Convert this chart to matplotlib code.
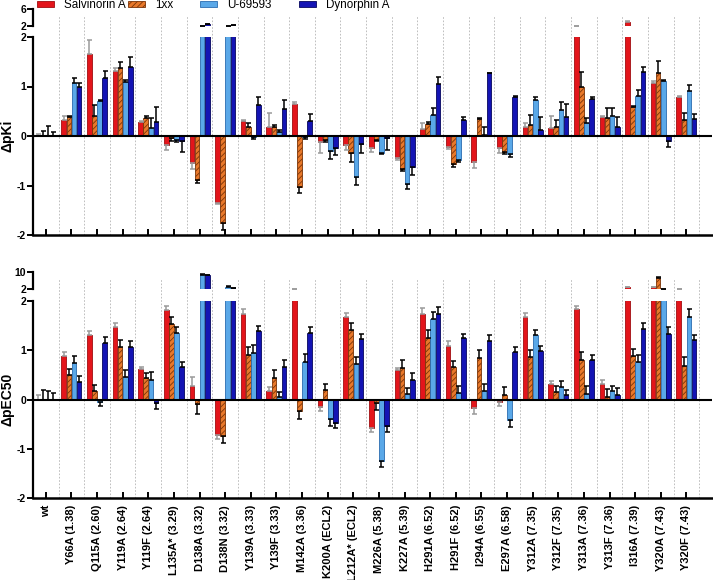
import matplotlib
matplotlib.use("Agg")
import matplotlib.pyplot as plt
import numpy as np
from matplotlib.patches import Patch

plt.rcParams['font.family'] = ['Liberation Sans', 'DejaVu Sans']
plt.rcParams['hatch.linewidth'] = 0.6

categories = ['wt', 'Y66A (1.38)', 'Q115A (2.60)', 'Y119A (2.64)', 'Y119F (2.64)',
              'L135A* (3.29)', 'D138A (3.32)', 'D138N (3.32)', 'Y139A (3.33)',
              'Y139F (3.33)', 'M142A (3.36)', 'K200A (ECL2)', 'L212A* (ECL2)',
              'M226A (5.38)', 'K227A (5.39)', 'H291A (6.52)', 'H291F (6.52)',
              'I294A (6.55)', 'E297A (6.58)', 'Y312A (7.35)', 'Y312F (7.35)',
              'Y313A (7.36)', 'Y313F (7.36)', 'I316A (7.39)', 'Y320A (7.43)',
              'Y320F (7.43)']
series = ['Salvinorin A', '1xx', 'U-69593', 'Dynorphin A']

# ---- delta pKi ----
pki_salvA = [0, 0.32, 1.66, 1.32, 0.29, -0.18, -0.55, -1.35, 0.31, 0.19, 0.65, -0.13, -0.18,
             -0.25, -0.45, 0.15, -0.22, -0.52, -0.25, 0.19, 0.17, 2.03, 0.39, 3.0, 1.08, 0.79]
pki_salvA_err = [0.05, 0.09, 0.28, 0.05, 0.02, 0.1, 0.12, 0.02, 0.02, 0.27, 0.03, 0.22, 0.1,
                 0.07, 0.03, 0.12, 0.05, 0.13, 0.09, 0.08, 0.23, 0.03, 0.02, 0.1, 0.03, 0.02]
pki_1xx = [0, 0.39, 0.40, 1.37, 0.36, -0.05, -0.89, -1.75, 0.19, 0.18, -1.04, -0.08, -0.34,
           -0.09, -0.67, 0.24, -0.57, 0.35, -0.33, 0.22, 0.18, 0.98, 0.36, 0.59, 1.27, 0.32]
pki_1xx_err = [0.1, 0.02, 0.22, 0.13, 0.05, 0.06, 0.05, 0.15, 0.08, 0.04, 0.12, 0.05, 0.18,
               0.01, 0.03, 0.04, 0.05, 0.01, 0.04, 0.2, 0.14, 0.32, 0.2, 0.02, 0.25, 0.14]
pki_u69 = [0, 1.08, 0.71, 1.10, 0.17, -0.09, 2.05, 2.05, -0.03, 0.09, -0.03, -0.30, -0.82,
           -0.35, -0.97, 0.42, -0.48, 0.03, -0.36, 0.73, 0.53, 0.26, 0.40, 0.81, 1.11, 0.91]
pki_u69_err = [0.2, 0.1, 0.02, 0.03, 0.19, 0.04, 0.05, 0.05, 0.04, 0.03, 0.03, 0.17, 0.17,
               0.02, 0.11, 0.14, 0.04, 0.15, 0.06, 0.06, 0.15, 0.1, 0.16, 0.11, 0.03, 0.12]
pki_dyn = [0, 0.98, 1.18, 1.40, 0.29, -0.11, 2.4, 2.15, 0.63, 0.55, 0.30, -0.24, -0.17,
           -0.05, -0.62, 1.05, 0.32, 1.27, 0.78, 0.13, 0.39, 0.75, 0.19, 1.30, -0.10, 0.34]
pki_dyn_err = [0.08, 0.1, 0.13, 0.19, 0.3, 0.22, 0.05, 0.05, 0.16, 0.18, 0.14, 0.14, 0.18,
               0.23, 0.17, 0.15, 0.06, 0.01, 0.03, 0.25, 0.25, 0.04, 0.19, 0.1, 0.12, 0.1]

# ---- delta pEC50 ----
ec_salvA = [0, 0.875, 1.30, 1.47, 0.61, 1.82, 0.28, -0.73, 1.73, 0.17, 2.05, -0.15, 1.67,
            -0.57, 0.59, 1.73, 1.09, -0.17, -0.05, 1.68, 0.32, 1.83, 0.32, 2.8, 2.8, 2.05]
ec_salvA_err = [0.1, 0.09, 0.09, 0.09, 0.06, 0.08, 0.18, 0.08, 0.1, 0.09, 0.05, 0.09, 0.08,
                0.09, 0.05, 0.12, 0.09, 0.12, 0.08, 0.07, 0.06, 0.07, 0.08, 0.3, 0.2, 0.05]
ec_1xx = [0, 0.49, 0.17, 1.06, 0.44, 1.53, -0.10, -0.74, 0.90, 0.44, -0.24, 0.20, 1.41,
          -0.07, 0.64, 1.25, 0.66, 0.84, 0.10, 0.86, 0.15, 0.81, 0.05, 0.89, 7.2, 0.69]
ec_1xx_err = [0.2, 0.13, 0.13, 0.14, 0.1, 0.14, 0.2, 0.14, 0.16, 0.15, 0.15, 0.12, 0.14,
              0.15, 0.17, 0.16, 0.13, 0.16, 0.16, 0.14, 0.13, 0.15, 0.17, 0.14, 0.4, 0.17]
ec_u69 = [0, 0.74, -0.05, 0.46, 0.40, 1.35, 8.6, 3.1, 0.94, 0.05, 0.77, -0.40, 0.73,
          -1.25, 0.12, 1.63, 0.13, 0.17, -0.42, 1.31, 0.25, 0.12, 0.17, 0.77, 2.1, 1.68]
ec_u69_err = [0.17, 0.15, 0.08, 0.14, 0.16, 0.13, 0.3, 0.2, 0.17, 0.1, 0.15, 0.13, 0.13,
              0.13, 0.12, 0.14, 0.14, 0.15, 0.13, 0.1, 0.12, 0.15, 0.11, 0.14, 0.1, 0.15]
ec_dyn = [0, 0.35, 1.14, 1.06, -0.08, 0.65, 8.4, 2.3, 1.39, 0.67, 1.35, -0.47, 1.23,
          -0.54, 0.40, 1.74, 1.25, 1.18, 0.96, 0.98, 0.10, 0.81, 0.10, 1.43, 1.33, 1.21]
ec_dyn_err = [0.13, 0.12, 0.12, 0.13, 0.12, 0.11, 0.3, 0.1, 0.11, 0.14, 0.12, 0.1, 0.1,
              0.11, 0.13, 0.14, 0.08, 0.12, 0.1, 0.1, 0.1, 0.1, 0.14, 0.12, 0.14, 0.1]

face = ['#e3151b', '#e8782a', '#5aa8e8', '#1414b4']
edge = ['#a00d10', '#7a3408', '#2a6cb0', '#06065e']
hatches = [None, '//////', None, None]
ecolors = ['#9a9a9a', 'black', 'black', 'black']
offsets = [-0.3, -0.1, 0.1, 0.3]
bw = 0.18
BREAK = 2.0

W_PX, H_PX = 713, 580
fig = plt.figure(figsize=(W_PX / 100, H_PX / 100), dpi=100)

x = np.arange(len(categories))
XLIM = (-0.5, 26.0)
L = 33 / W_PX
WD = (712 - 33) / W_PX

def rect(top_px, bot_px):
    return [L, 1 - bot_px / H_PX, WD, (bot_px - top_px) / H_PX]

tickfont = dict(fontsize=7.5, fontweight='bold')

def draw_bars(ax, vals, errs, upper):
    for k in range(4):
        v = np.array(vals[k], dtype=float)
        e = np.array(errs[k], dtype=float)
        big = v > BREAK
        if upper:
            v = np.where(big, v, np.nan)
            e = np.where(big, e, np.nan)
        else:
            e = np.where(big, np.nan, e)
        yerr = np.vstack([np.where(v < 0, e, 0), np.where(v >= 0, e, 0)])
        ax.bar(x + offsets[k], v, width=bw, color=face[k], edgecolor=edge[k],
               linewidth=0.6, hatch=hatches[k], zorder=2,
               yerr=yerr, ecolor=ecolors[k],
               error_kw=dict(elinewidth=1.1, capsize=1.8, capthick=1.1, zorder=3))

def panel(main_px, up_px, vals, errs, up_top, ylabel, show_labels):
    bg = fig.add_axes(rect(up_px[0], main_px[1]), zorder=0)
    bg.set_xlim(XLIM); bg.set_ylim(0, 1); bg.axis('off')
    for i in range(len(categories)):
        bg.axvline(i + 0.5, ymin=0, ymax=0.975, color='#b4b4b4', lw=0.6, ls=(0, (2.0, 2.0)))

    main = fig.add_axes(rect(*main_px), zorder=1)
    up = fig.add_axes(rect(*up_px), zorder=1)
    for ax, is_up in ((main, False), (up, True)):
        ax.patch.set_alpha(0)
        draw_bars(ax, vals, errs, is_up)
        ax.set_xlim(XLIM)
        ax.spines['top'].set_visible(False)
        ax.spines['right'].set_visible(False)
        ax.spines['left'].set_linewidth(1.6)
        ax.tick_params(axis='y', direction='out', length=4, width=1.4, pad=1)

    main.set_ylim(-2, 2)
    main.set_yticks([-2, -1, 0, 1, 2])
    main.set_yticklabels(['-2', '-1', '0', '1', '2'], **tickfont)
    main.axhline(0, color='black', lw=1.5, zorder=4)
    main.spines['bottom'].set_linewidth(1.8)
    main.set_xticks(x)
    main.tick_params(axis='x', direction='in', length=4, width=1.4, pad=5)
    if show_labels:
        main.set_xticklabels(categories, rotation=90, fontsize=8.0, fontweight='bold')
    else:
        main.set_xticklabels([])
    main.set_ylabel(ylabel, fontsize=10, fontweight='bold', labelpad=2)

    up.set_ylim(2, up_top)
    up.set_yticks([2, up_top])
    up.set_yticklabels(['2', str(up_top)], **tickfont)
    up.spines['bottom'].set_visible(False)
    up.set_xticks([])
    return main, up

panel((37, 235), (9, 26),
      [pki_salvA, pki_1xx, pki_u69, pki_dyn],
      [pki_salvA_err, pki_1xx_err, pki_u69_err, pki_dyn_err],
      6, 'ΔpKi', False)
panel((301, 498), (272, 289),
      [ec_salvA, ec_1xx, ec_u69, ec_dyn],
      [ec_salvA_err, ec_1xx_err, ec_u69_err, ec_dyn_err],
      10, 'ΔpEC50', True)

# legend entries (placed individually like the reference)
leg_x_px = [37, 128, 200, 299]
for k in range(4):
    h = Patch(facecolor=face[k], edgecolor=edge[k], hatch=hatches[k], linewidth=0.6)
    fig.legend([h], [series[k]], loc='center left',
               bbox_to_anchor=(leg_x_px[k] / W_PX, 1 - 5 / H_PX),
               frameon=False, fontsize=8.4, borderpad=0, borderaxespad=0,
               handlelength=1.45, handleheight=0.5, handletextpad=0.85)

fig.savefig('out.png', dpi=100)
